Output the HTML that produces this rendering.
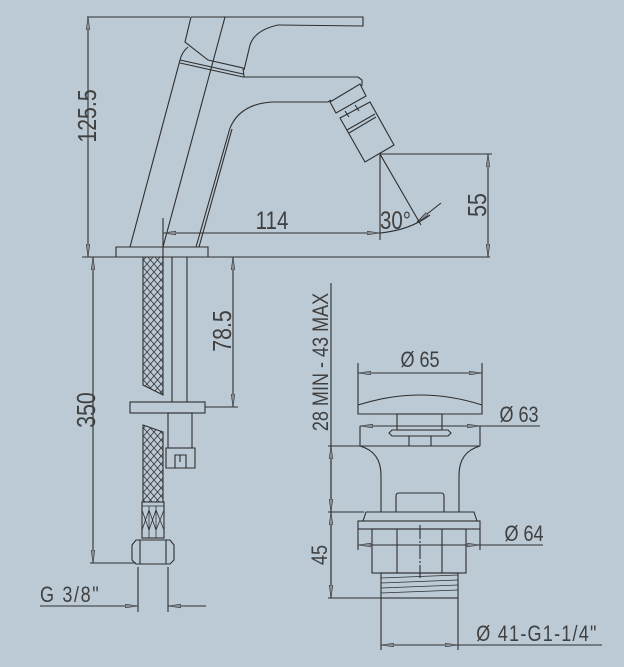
<!DOCTYPE html>
<html><head><style>
html,body{margin:0;padding:0;background:#bccad5;}
svg{display:block}
text{font-family:"Liberation Sans Narrow","Liberation Sans",sans-serif;fill:#404040;}
</style></head><body>
<svg width="624" height="667" viewBox="0 0 624 667" xmlns="http://www.w3.org/2000/svg">
<defs>
<marker id="a" markerWidth="14" markerHeight="6" refX="13" refY="3" orient="auto" markerUnits="userSpaceOnUse">
<path d="M0,1.2 L13,3 L0,4.8 Z" fill="#8a8f95" stroke="#333" stroke-width="0.6"/></marker>
<marker id="b" markerWidth="14" markerHeight="6" refX="1" refY="3" orient="auto" markerUnits="userSpaceOnUse">
<path d="M14,1.2 L1,3 L14,4.8 Z" fill="#8a8f95" stroke="#333" stroke-width="0.6"/></marker>
<pattern id="mesh" width="7" height="8" patternUnits="userSpaceOnUse">
<path d="M0,0 L7,8 M7,0 L0,8" stroke="#333" stroke-width="0.8"/></pattern>
</defs>
<g fill="none" stroke="#2e2e2e" stroke-width="1.1">
<line x1="87" y1="17" x2="190" y2="17"/>
<line x1="88" y1="17" x2="88" y2="257" marker-start="url(#b)" marker-end="url(#a)"/>
<line x1="82" y1="257" x2="490" y2="257"/>
<path d="M191,17 L363,17 L363,26 L278,25"/>
<path d="M278,25 Q255,30 250,45 L244,70"/>
<path d="M191,17 L185,42 L208,60 L243,68 L244,77"/>
<path d="M225,17 L163,247"/>
<path d="M180,60 L130,247"/>
<path d="M180,60 L243,74 M180,63 L243,77"/>
<path d="M188,47 Q182,52 180,60"/>
<path d="M243,77 L358,77 L362,80 L362,86"/>
<path d="M196,247 L230,128 Q240,104 272,102 L328,102 L331,100"/>
<path d="M199,247 L232,129"/>
<path d="M330,102 L360,84 L366,96 L336,113 Z"/>
<path d="M340,118 L370,102 L394,145 L365,162 Z"/>
<path d="M347,130 L375,114 M349,133 L376,117"/>
<path d="M345,111 L349,117 M355,105 L359,111"/>
<path d="M116,257 L116,247 L208,247 L208,257"/>
<line x1="380" y1="154" x2="492" y2="154"/>
<line x1="488" y1="154" x2="488" y2="257" marker-start="url(#b)" marker-end="url(#a)"/>
<line x1="380" y1="154" x2="380" y2="240"/>
<line x1="380" y1="154" x2="421" y2="225"/>
<path d="M380,233 Q410,230 430,215"/>
<line x1="417" y1="222" x2="441" y2="203" marker-start="url(#b)"/>
<line x1="163" y1="218" x2="163" y2="272"/>
<line x1="163" y1="233" x2="380" y2="233" marker-start="url(#b)" marker-end="url(#a)"/>
<path d="M143,257 L163,257 L163,395 L143,385 Z" fill="url(#mesh)"/>
<path d="M143,425 L163,432 L163,502 L143,502 Z" fill="url(#mesh)"/>
<rect x="142" y="502" width="22" height="36"/>
<path d="M142,506 L164,506 M149,506 L149,538 M156,506 L156,538 M142,510 L149,530 M149,510 L142,530 M149,510 L156,530 M156,510 L149,530 M156,510 L164,530 M164,510 L156,530" stroke-width="0.8"/>
<path d="M136,540 L170,540 L174,545 L174,560 L170,564 L136,564 L132,560 L132,545 Z"/>
<line x1="140" y1="540" x2="140" y2="564"/><line x1="166" y1="540" x2="166" y2="564"/>
<line x1="172" y1="257" x2="172" y2="402"/><line x1="187" y1="257" x2="187" y2="402"/>
<rect x="130" y="402" width="75" height="11"/>
<rect x="168" y="413" width="24" height="35"/>
<path d="M166,448 L195,448 L195,468 L166,468 Z M175,468 L175,455 L186,455 L186,468 M180,455 L180,462"/>
<line x1="205" y1="407" x2="238" y2="407"/>
<line x1="233" y1="257" x2="233" y2="407" marker-start="url(#b)" marker-end="url(#a)"/>
<line x1="90" y1="563" x2="136" y2="563"/>
<line x1="93" y1="257" x2="93" y2="563" marker-start="url(#b)" marker-end="url(#a)"/>
<line x1="138" y1="567" x2="138" y2="612"/><line x1="168" y1="567" x2="168" y2="612"/>
<line x1="40" y1="606" x2="138" y2="606" marker-end="url(#a)"/>
<line x1="206" y1="606" x2="168" y2="606" marker-end="url(#a)"/>
<line x1="331" y1="283" x2="331" y2="598"/>
<line x1="331" y1="446" x2="331" y2="512" marker-start="url(#b)" marker-end="url(#a)"/>
<line x1="331" y1="512" x2="331" y2="598" marker-start="url(#b)" marker-end="url(#a)"/>
<line x1="328" y1="446" x2="362" y2="446"/>
<line x1="328" y1="512" x2="364" y2="512"/>
<line x1="328" y1="598" x2="381" y2="598"/>
<line x1="358" y1="363" x2="358" y2="405"/><line x1="482" y1="363" x2="482" y2="405"/>
<line x1="358" y1="373" x2="482" y2="373" marker-start="url(#b)" marker-end="url(#a)"/>
<path d="M358,405 Q420,385 482,405 L482,414 L358,414 Z"/>
<rect x="397" y="414" width="45" height="16"/>
<path d="M392,430 L448,430 L451,433 L448,436 L392,436 L389,433 Z"/>
<line x1="360" y1="426" x2="360" y2="446"/><line x1="480" y1="426" x2="480" y2="446"/>
<line x1="360" y1="426" x2="540" y2="426" marker-start="url(#b)"/>
<line x1="395" y1="426" x2="480" y2="426" marker-end="url(#a)"/>
<line x1="360" y1="446" x2="480" y2="446"/>
<line x1="409" y1="436" x2="409" y2="446"/><line x1="431" y1="436" x2="431" y2="446"/>
<path d="M360,446 Q381,452 381,475 L381,512 M480,446 Q459,452 459,475 L459,512"/>
<path d="M396,512 L396,496 Q396,493 399,493 L441,493 Q444,493 444,496 L444,512"/>
<path d="M363,521 L366,512 L474,512 L477,521"/>
<rect x="358" y="521" width="122" height="8"/>
<rect x="372" y="529" width="94" height="44"/>
<line x1="397" y1="529" x2="397" y2="573"/><line x1="442" y1="529" x2="442" y2="573"/>
<line x1="420" y1="525" x2="420" y2="578" stroke-dasharray="14,2,2,2"/>
<line x1="358" y1="529" x2="358" y2="550"/><line x1="480" y1="529" x2="480" y2="550"/>
<line x1="358" y1="545" x2="543" y2="545" marker-start="url(#b)"/>
<line x1="395" y1="545" x2="480" y2="545" marker-end="url(#a)"/>
<rect x="381" y="573" width="77" height="25"/>
<path d="M381,578 L458,575 M381,583 L458,580 M381,588 L458,585 M381,593 L458,590" stroke-width="0.7"/>
<line x1="381" y1="598" x2="381" y2="650"/><line x1="458" y1="598" x2="458" y2="650"/>
<line x1="381" y1="645" x2="458" y2="645" marker-start="url(#b)" marker-end="url(#a)"/>
<line x1="458" y1="645" x2="602" y2="645"/>
</g>
<text transform="translate(96,116) rotate(-90) scale(0.82,1)" text-anchor="middle" font-size="26">125.5</text>
<text transform="translate(486,205) rotate(-90) scale(0.82,1)" text-anchor="middle" font-size="26">55</text>
<text transform="translate(231,331) rotate(-90) scale(0.82,1)" text-anchor="middle" font-size="26">78.5</text>
<text transform="translate(95,410) rotate(-90) scale(0.82,1)" text-anchor="middle" font-size="26">350</text>
<text transform="translate(328,362) rotate(-90) scale(0.82,1)" text-anchor="middle" font-size="22">28 MIN - 43 MAX</text>
<text transform="translate(327,555) rotate(-90) scale(0.82,1)" text-anchor="middle" font-size="22">45</text>
<text transform="translate(272,229) scale(0.82,1)" text-anchor="middle" font-size="25">114</text>
<text transform="translate(380,229) scale(0.82,1)" font-size="25">30°</text>
<text transform="translate(40,602) scale(0.82,1)" font-size="22" letter-spacing="2">G  3/8"</text>
<text transform="translate(420,367) scale(0.82,1)" text-anchor="middle" font-size="22">Ø 65</text>
<text transform="translate(519,422) scale(0.82,1)" text-anchor="middle" font-size="22">Ø 63</text>
<text transform="translate(524,541) scale(0.82,1)" text-anchor="middle" font-size="22">Ø 64</text>
<text transform="translate(537,641) scale(0.82,1)" text-anchor="middle" font-size="22" letter-spacing="1.5">Ø 41-G1-1/4"</text>
</svg>
</body></html>
